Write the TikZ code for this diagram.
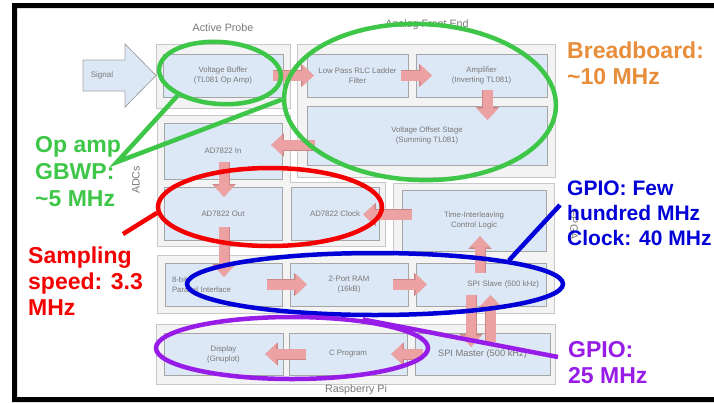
\documentclass[tikz,border=0pt]{standalone}
\usepackage{fontspec}
\setmainfont{Liberation Sans}
\usepackage{tikz}
\usetikzlibrary{arrows.meta,calc,shapes.geometric}

\definecolor{grpfill}{RGB}{243,243,243}
\definecolor{grpline}{RGB}{200,200,200}
\definecolor{boxfill}{RGB}{221,232,246}
\definecolor{boxline}{RGB}{165,165,165}
\definecolor{txtgray}{RGB}{120,120,120}
\definecolor{arrowfill}{RGB}{236,162,162}
\definecolor{arrowline}{RGB}{205,135,135}
\definecolor{gmark}{RGB}{62,198,72}
\definecolor{rmark}{RGB}{245,0,0}
\definecolor{bmark}{RGB}{0,0,215}
\definecolor{pmark}{RGB}{152,28,232}
\definecolor{omark}{RGB}{232,142,58}

\begin{document}
\begin{tikzpicture}[x=1pt,y=-1pt,
  group/.style={draw=grpline,fill=grpfill,line width=1pt},
  box/.style={draw=boxline,fill=boxfill,line width=0.8pt,text=txtgray,font=\fontsize{7.8}{10}\selectfont,align=center,inner sep=0pt},
  title/.style={text=txtgray,font=\fontsize{10.7}{12}\selectfont,inner sep=0pt},
  blockarrow/.style={draw=arrowfill,line width=10pt,-{Triangle[width=21pt,length=11pt,line width=0.1pt]},
    preaction={draw=arrowline,line width=11pt,-{Triangle[width=23pt,length=12.5pt,line width=0.1pt]}}},
  ring/.style={draw,ellipse,line width=4.5pt,inner sep=0pt},
  tie/.style={line width=4.5pt},
  note/.style={font=\fontsize{23}{26}\selectfont\bfseries,align=left,inner sep=0pt,anchor=north west}]

% frame
\useasboundingbox (0,0) rectangle (714,402);
\fill[white] (0,0) rectangle (714,402);
\fill[black] (12,3) rectangle (714,8) (12,3) rectangle (17,402) (12,397) rectangle (714,402);

% groups
\path[group] (156,44) rectangle (290,108);
\path[group] (297,44) rectangle (555,177);
\path[group] (157,115) -- (290,115) -- (290,182) -- (385,182) -- (385,246) -- (157,246) -- cycle;
\path[group] (393,183) -- (554,183) -- (554,313) -- (157,313) -- (157,255) -- (393,255) -- cycle;
\path[group] (156,324) rectangle (555,384);

% Nodes
\draw[draw=boxline,fill=boxfill,line width=0.8pt] (83,60) -- (125,60) -- (125,44) -- (156,75.5) -- (125,107) -- (125,91) -- (83,91) -- cycle;
\node[text=txtgray,font=\fontsize{8}{10}\selectfont] (signal) at (102,75.5) {Signal};

\node[box,minimum width=120pt,minimum height=43pt] (vbuf) at (223,75.5) {Voltage Buffer\\(TL081 Op Amp)};
\node[box,minimum width=101pt,minimum height=43pt] (lpf) at (357.5,75.5) {Low Pass RLC Ladder\\Filter};
\node[box,minimum width=131pt,minimum height=43pt] (amp) at (481.5,75.5) {Amplifier\\(Inverting TL081)};
\node[box,minimum width=240pt,minimum height=59pt] (vos) at (427,135.5) {Voltage Offset Stage\\(Summing TL081)};
\node[box,minimum width=118pt,minimum height=56pt] (adin) at (223,151) {AD7822 In};
\node[box,minimum width=118pt,minimum height=53pt] (adout) at (223,213.5) {AD7822 Out};
\node[box,minimum width=88pt,minimum height=53pt] (adclk) at (335,213.5) {AD7822 Clock};
\node[box,minimum width=144pt,minimum height=61pt] (tictl) at (474,220.5) {Time-Interleaving\\Control Logic};
\node[box,align=left,text width=103pt,inner xsep=7pt,minimum height=43pt] (par) at (223.5,284.5) {8-bit\\Parallel Interface};
\node[box,minimum width=118pt,minimum height=43pt] (ram) at (349,284.5) {2-Port RAM\\(16kB)};
\node[box,align=right,text width=116pt,inner xsep=7pt,minimum height=43pt] (spis) at (481,284.5) {SPI Slave (500 kHz)};
\node[box,minimum width=119pt,minimum height=42pt] (disp) at (223.5,354) {Display\\(Gnuplot)};
\node[box,minimum width=118pt,minimum height=42pt] (cprog) at (348,354) {C Program};
\node[box,minimum width=135pt,minimum height=42pt,font=\fontsize{9.3}{11}\selectfont] (spim) at (482.5,354) {SPI Master (500 kHz)};

% titles
\node[title] (aptitle) at (223,28) {Active Probe};
\node[title] (aftitle) at (427,25) {Analog Front End};
\node[title,rotate=90] (adctitle) at (136,180) {ADCs};
\node[title,rotate=-90] (fpgatitle) at (574,225) {FPGA};
\node[title] (rpititle) at (356,390) {Raspberry Pi};

%arrows
\draw[blockarrow] ($(vbuf.east)+(-10,0)$) -- ($(lpf.west)+(7,0)$);
\draw[blockarrow] ($(lpf.east)+(-7,0)$) -- ($(amp.west)+(16,0)$);
\draw[blockarrow] ($(amp.south)+(6,-7)$) -- ($(amp.south |- vos.north)+(6,14)$);
\draw[blockarrow] ($(vos.west |- adin.east)+(8,-6)$) -- ($(adin.east)+(-11,-6)$);
\draw[blockarrow] ($(adin.south)+(1,-17)$) -- ($(adout.north)+(1,10)$);
\draw[blockarrow] ($(adout.south)+(1,-13)$) -- ($(adout.south |- par.north)+(1,14)$);
\draw[blockarrow] ($(tictl.west |- adclk.east)+(10,1)$) -- ($(adclk.east)+(-16,1)$);
\draw[blockarrow] ($(par.east)+(-15,0)$) -- ($(ram.west)+(17,0)$);
\draw[blockarrow] ($(ram.east)+(-15,0)$) -- ($(spis.west)+(11,0)$);
\draw[blockarrow] ($(spis.north)+(-1,10)$) -- ($(spis.north |- tictl.south)+(-1,-15)$);
\draw[blockarrow] ($(spis.south)+(-10,-11)$) -- ($(spis.south |- spim.north)+(-10,14)$);
\draw[blockarrow] ($(spim.north)+(8,9)$) -- ($(spim.north |- spis.south)+(8,-11)$);
\draw[blockarrow] ($(spim.west)+(8,0)$) -- ($(cprog.east)+(-16,0)$);
\draw[blockarrow] ($(cprog.west)+(17,0)$) -- ($(disp.east)+(-18,0)$);

% rings
\node[ring,draw=gmark,rotate=-4,minimum width=122pt,minimum height=62pt] (gell1) at (220,73) {};
\node[ring,draw=gmark,rotate=-2,minimum width=272pt,minimum height=156pt] (gell2) at (420,102) {};
\node[ring,draw=rmark,minimum width=224pt,minimum height=78pt] (rell) at (270,207) {};
\node[ring,draw=bmark,minimum width=376pt,minimum height=62pt] (bell) at (375,284) {};
\node[ring,draw=pmark,minimum width=272pt,minimum height=62pt] (pell) at (292,348) {};

\coordinate (gtip) at (117,162);
\coordinate (rtip) at (123,234);
\coordinate (btip) at (560,205);
\coordinate (ptip) at (558,357);
\draw[tie,draw=gmark] (gell1.212) -- (gtip) -- (gell2.181);
\draw[tie,draw=rmark] (rtip) -- (rell.183);
\draw[tie,draw=bmark] (bell.10) -- (btip);
\draw[tie,draw=pmark] (pell.22) -- (ptip);

% notes
\node[note,text=omark] (bbnote) at (567,42) {Breadboard:\\\textasciitilde10 MHz};
\node[note,text=gmark,font=\fontsize{23}{27}\selectfont\bfseries] (opnote) at (35,136) {Op amp\\GBWP:\\\textasciitilde5 MHz};
\node[note,text=rmark] (spnote) at (28,247) {Sampling\\speed: 3.3\\MHz};
\node[note,text=bmark,font=\fontsize{21}{25}\selectfont\bfseries] (gpnote) at (567,181) {GPIO: Few\\hundred MHz\\Clock: 40 MHz};
\node[note,text=pmark] (pinote) at (568,341) {GPIO:\\25 MHz};

\end{tikzpicture}
\end{document}
